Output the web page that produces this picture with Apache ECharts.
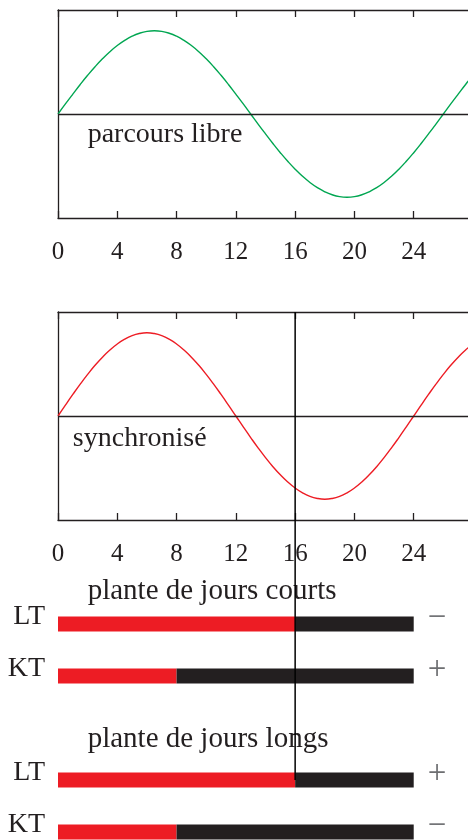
<!DOCTYPE html>
<html>
<head>
<meta charset="utf-8">
<script src="https://cdn.jsdelivr.net/npm/echarts@6/dist/echarts.min.js"></script>
<style>
  html, body { margin: 0; padding: 0; background: #fff; }
  #chart { width: 468px; height: 840px; }
</style>
</head>
<body>
<div id="chart"></div>
<script>
// Half-hour steps along every time axis
const hours = [0, 0.5, 1, 1.5, 2, 2.5, 3, 3.5, 4, 4.5, 5, 5.5, 6, 6.5, 7, 7.5, 8, 8.5, 9, 9.5,
  10, 10.5, 11, 11.5, 12, 12.5, 13, 13.5, 14, 14.5, 15, 15.5, 16, 16.5, 17, 17.5, 18, 18.5, 19, 19.5,
  20, 20.5, 21, 21.5, 22, 22.5, 23, 23.5, 24, 24.5, 25, 25.5, 26, 26.5, 27, 27.5, 28];
const hourTicks = ['0', '4', '8', '12', '16', '20', '24'];

// Free-running rhythm (period about 26 h)
const freeRun = [0, 0.121, 0.239, 0.355, 0.465, 0.568, 0.663, 0.749, 0.823, 0.885, 0.935, 0.971, 0.993, 1, 0.993, 0.971, 0.935, 0.885, 0.823, 0.749,
  0.663, 0.568, 0.465, 0.355, 0.239, 0.121, 0, -0.121, -0.239, -0.355, -0.465, -0.568, -0.663, -0.749, -0.823, -0.885, -0.935, -0.971, -0.993, -1,
  -0.993, -0.971, -0.935, -0.885, -0.823, -0.749, -0.663, -0.568, -0.465, -0.355, -0.239, -0.121, 0, 0.121, 0.239, 0.355, 0.465];

// Rhythm entrained to the 24 h day
const synced = [0, 0.131, 0.259, 0.383, 0.5, 0.609, 0.707, 0.793, 0.866, 0.924, 0.966, 0.991, 1, 0.991, 0.966, 0.924, 0.866, 0.793, 0.707, 0.609,
  0.5, 0.383, 0.259, 0.131, 0, -0.131, -0.259, -0.383, -0.5, -0.609, -0.707, -0.793, -0.866, -0.924, -0.966, -0.991, -1, -0.991, -0.966, -0.924,
  -0.866, -0.793, -0.707, -0.609, -0.5, -0.383, -0.259, -0.131, 0, 0.131, 0.259, 0.383, 0.5, 0.609, 0.707, 0.793, 0.866];

// Photoperiod rows: LT = long day, KT = short day
const rowNames = ['LT', 'KT', '', 'LT', 'KT'];
const lightHours = [16, 8, null, 16, 8];
const darkHours = [8, 16, null, 8, 16];
const flowering = ['−', '+', '', '+', '−'];
const groupTitles = ['plante de jours courts', 'plante de jours longs'];
const curveLabels = ['parcours libre', 'synchronisé'];
const dawnShift = 16;

const INK = '#231f20';
const FONT = 'Liberation Serif';
const TEXT_SIZE = 28;

function pairs(ys) { return hours.map((h, i) => [h, ys[i]]); }

function timeAxis(grid, pos, labels) {
  return {
    type: 'value', gridIndex: grid, position: pos, min: 0, max: 28, interval: 4,
    axisLine: { show: true, onZero: false, lineStyle: { color: INK, width: 1.3 } },
    axisTick: { show: true, inside: true, length: 7, lineStyle: { color: INK, width: 1.3 } },
    axisLabel: labels ? {
      show: true, margin: 22, fontFamily: FONT, fontSize: 25, color: INK,
      showMaxLabel: false,
      formatter: v => hourTicks.includes(String(v)) ? String(v) : ''
    } : { show: false },
    splitLine: { show: false }
  };
}

function levelAxis(grid) {
  return {
    type: 'value', gridIndex: grid, min: -1.25, max: 1.25,
    axisLine: { show: true, lineStyle: { color: INK, width: 1.3 } },
    axisTick: { show: false }, axisLabel: { show: false }, splitLine: { show: false }
  };
}

const zeroLine = {
  symbol: 'none', silent: true, label: { show: false },
  lineStyle: { color: INK, width: 1.3, type: 'solid' },
  data: [{ yAxis: 0 }]
};

const chart = echarts.init(document.getElementById('chart'), null, { renderer: 'canvas' });

chart.setOption({
  animation: false,
  backgroundColor: '#ffffff',
  grid: [
    { left: 58, top: 10, height: 208, width: 415, outerBoundsMode: 'none' },
    { left: 58, top: 312, height: 208, width: 415, outerBoundsMode: 'none' },
    { left: 58, top: 598, height: 260, width: 415, outerBoundsMode: 'none' }
  ],
  xAxis: [
    timeAxis(0, 'bottom', true),
    timeAxis(0, 'top', false),
    timeAxis(1, 'bottom', true),
    timeAxis(1, 'top', false),
    { type: 'value', gridIndex: 2, min: 0, max: 28, show: false }
  ],
  yAxis: [
    levelAxis(0),
    levelAxis(1),
    {
      type: 'category', gridIndex: 2, inverse: true,
      data: rowNames.map((_, i) => String(i)),
      axisLine: { show: false }, axisTick: { show: false }, splitLine: { show: false },
      axisLabel: { show: false }
    }
  ],
  series: [
    {
      type: 'line', xAxisIndex: 0, yAxisIndex: 0, data: pairs(freeRun),
      smooth: true, showSymbol: false, silent: true,
      lineStyle: { color: '#00a651', width: 1.4 },
      markLine: zeroLine
    },
    {
      type: 'line', xAxisIndex: 2, yAxisIndex: 1, data: pairs(synced),
      smooth: true, showSymbol: false, silent: true,
      lineStyle: { color: '#ed1c24', width: 1.4 },
      markLine: zeroLine
    },
    {
      type: 'bar', xAxisIndex: 4, yAxisIndex: 2, stack: 'day', barWidth: 15,
      data: lightHours, itemStyle: { color: '#ed1c24' }, silent: true,
      label: {
        show: true, position: 'left', distance: 13, offset: [0, -7],
        fontFamily: FONT, fontSize: TEXT_SIZE, color: INK,
        formatter: p => rowNames[p.dataIndex]
      }
    },
    {
      type: 'bar', xAxisIndex: 4, yAxisIndex: 2, stack: 'day', barWidth: 15,
      data: darkHours, itemStyle: { color: INK }, silent: true,
      label: {
        show: true, position: 'right', distance: 14, offset: [0, -6],
        fontFamily: FONT, fontSize: 33, color: '#6d6e71',
        formatter: p => flowering[p.dataIndex]
      }
    }
  ]
});

// Annotations placed through the axes' own coordinate systems
const px = (finder, v) => chart.convertToPixel(finder, v);
const freePos = chart.convertToPixel({ gridIndex: 0 }, [2, -0.25]);
const syncPos = chart.convertToPixel({ gridIndex: 1 }, [1, -0.27]);
const shiftX = px({ xAxisIndex: 2 }, dawnShift);
const shiftTop = px({ yAxisIndex: 1 }, 1.25);
const shiftBottom = px({ yAxisIndex: 2 }, 3);
const titleX = px({ xAxisIndex: 4 }, 2);
const textMark = (t, x, y, size) => ({
  type: 'text', x: x, y: y, silent: true,
  style: { text: t, fontFamily: FONT, fontSize: size || TEXT_SIZE, fill: INK, align: 'left', verticalAlign: 'middle' }
});

chart.setOption({
  graphic: [
    textMark(curveLabels[0], freePos[0], freePos[1]),
    textMark(curveLabels[1], syncPos[0], syncPos[1]),
    textMark(groupTitles[0], titleX, px({ yAxisIndex: 2 }, 0) - 33, 29),
    textMark(groupTitles[1], titleX, px({ yAxisIndex: 2 }, 2) + 11, 29),
    {
      type: 'line', silent: true, z: 100,
      shape: { x1: shiftX, y1: shiftTop, x2: shiftX, y2: shiftBottom },
      style: { stroke: '#000', lineWidth: 1.5 }
    }
  ]
});
</script>
</body>
</html>
